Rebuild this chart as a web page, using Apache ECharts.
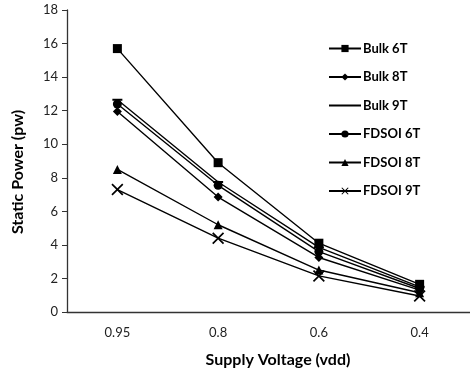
<!DOCTYPE html>
<html>
<head>
<meta charset="utf-8">
<script src="https://cdn.jsdelivr.net/npm/echarts@6/dist/echarts.min.js"></script>
<style>
  html, body { margin: 0; padding: 0; background: #fff; }
  #chart { width: 470px; height: 372px; }
</style>
</head>
<body>
<div id="chart"></div>
<script>
// supply voltages on the x axis
const voltages = ['0.95', '0.8', '0.6', '0.4']
const seriesNames = ['Bulk 6T', 'Bulk 8T', 'Bulk 9T', 'FDSOI 6T', 'FDSOI 8T', 'FDSOI 9T']

// static power (pw)
const bulk6T = [15.7, 8.9, 4.1, 1.65]
const bulk8T = [11.95, 6.85, 3.25, 1.3]
const bulk9T = [12.65, 7.75, 3.85, 1.5]
const fdsoi6T = [12.4, 7.55, 3.6, 1.4]
const fdsoi8T = [8.5, 5.2, 2.5, 1.15]
const fdsoi9T = [7.3, 4.4, 2.15, 0.95]

const yTicks = { min: 0, max: 18, interval: 2 }

const crossPath = 'path://M0,1L1,0L5,4L9,0L10,1L6,5L10,9L9,10L5,6L1,10L0,9L4,5Z'

const seriesData = [bulk6T, bulk8T, bulk9T, fdsoi6T, fdsoi8T, fdsoi9T]
const symbols = [
  { symbol: 'rect', size: 9 },
  { symbol: 'diamond', size: 9 },
  { symbol: 'rect', size: [10, 2] },
  { symbol: 'circle', size: 9 },
  { symbol: 'triangle', size: 9 },
  { symbol: crossPath, size: 12 }
]

const titleFont = 'bold 16px Lato, "Open Sans", sans-serif'

const chart = echarts.init(document.getElementById('chart'))
chart.setOption({
  animation: false,
  textStyle: { fontFamily: 'Lato, "Open Sans", sans-serif' },
  grid: { left: 67, right: 0, top: 10, bottom: 60 },
  legend: {
    orient: 'vertical',
    left: 323,
    top: 37,
    itemWidth: 32,
    itemHeight: 9,
    itemGap: 15.5,
    textStyle: { fontSize: 13, fontWeight: 'bold', color: '#000', padding: [0, 0, 0, -3] },
    data: seriesNames.map(name => name === 'Bulk 9T'
      ? { name, itemStyle: { color: 'rgba(0,0,0,0)' } }
      : name)
  },
  xAxis: {
    type: 'category',
    data: voltages,
    axisLine: { lineStyle: { color: '#333', width: 1.3 } },
    axisTick: { length: 5, lineStyle: { color: '#333' } },
    axisLabel: { color: '#222', fontSize: 13, margin: 14 }
  },
  yAxis: {
    type: 'value',
    min: yTicks.min,
    max: yTicks.max,
    interval: yTicks.interval,
    splitLine: { show: false },
    axisLine: { show: true, lineStyle: { color: '#333', width: 1.3 } },
    axisTick: { show: true, length: 5, lineStyle: { color: '#333' } },
    axisLabel: { color: '#222', fontSize: 13, margin: 9 }
  },
  graphic: [
    {
      type: 'text',
      x: 18,
      y: 172,
      rotation: Math.PI / 2,
      style: {
        text: 'Static Power (pw)',
        font: titleFont,
        fill: '#000',
        align: 'center',
        verticalAlign: 'middle'
      }
    },
    {
      type: 'text',
      x: 278,
      y: 360,
      style: {
        text: 'Supply Voltage (vdd)',
        font: titleFont,
        fill: '#000',
        align: 'center',
        verticalAlign: 'middle'
      }
    }
  ],
  series: seriesNames.map((name, i) => ({
    name,
    type: 'line',
    data: seriesData[i],
    symbol: symbols[i].symbol,
    symbolSize: symbols[i].size,
    showAllSymbol: true,
    lineStyle: { color: '#000', width: 1.4 },
    itemStyle: { color: '#000' }
  }))
})
</script>
</body>
</html>
